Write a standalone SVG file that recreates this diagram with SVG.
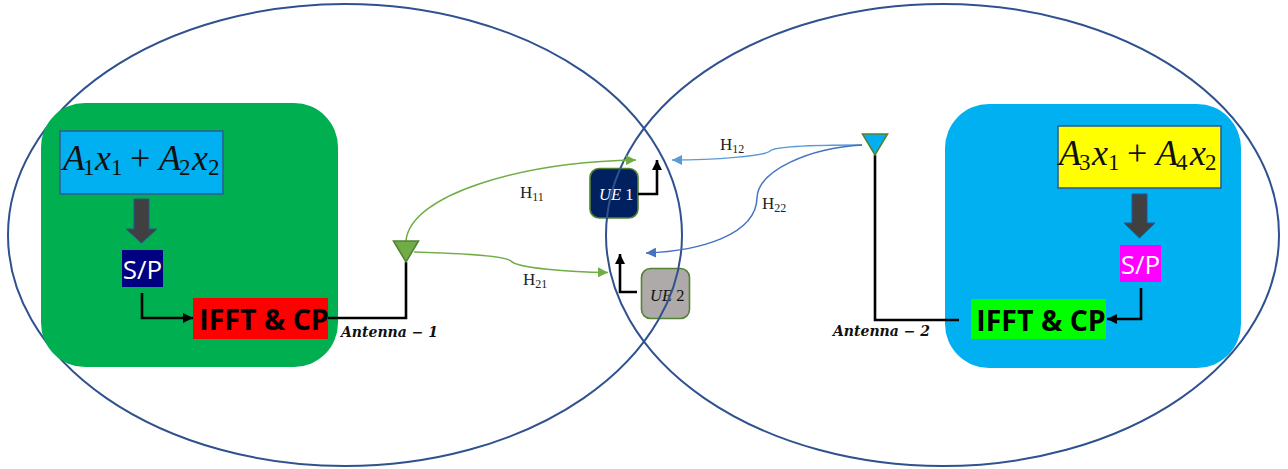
<svg xmlns="http://www.w3.org/2000/svg" width="1288" height="469" viewBox="0 0 1288 469">
<style>
.cell{fill:none;stroke:#2f528f;stroke-width:2}
.math{font-family:"Liberation Serif",serif;font-size:36px;font-style:italic;fill:#111}
.sub{font-size:23px;font-style:normal}
.up{font-style:normal}
.sp{font-family:"Open Sans","Noto Sans",sans-serif;font-size:26px;fill:#fff;text-anchor:middle}
.ifft{font-family:"Open Sans","Noto Sans",sans-serif;font-size:28.500px;font-weight:700;fill:#000;text-anchor:middle}
.ant{font-family:"DejaVu Serif",serif;font-size:14px;font-weight:700;font-style:italic;fill:#111}
.h{font-family:"Liberation Serif",serif;font-size:17px;fill:#222}
.hs{font-size:12px}
.ue{font-family:"Liberation Serif",serif;font-size:16.500px;font-style:italic}
.blk{fill:none;stroke:#000;stroke-width:2.600}
.thick{fill:#404040;stroke:#2f528f;stroke-width:1}
.box{stroke:#2f5f8f;stroke-width:1.600}
.uebox{stroke:#548235;stroke-width:1.600}
.tri{stroke:#548235;stroke-width:1.600}
</style>
<defs>
<marker id="mb" markerUnits="userSpaceOnUse" markerWidth="11" markerHeight="12" refX="10" refY="6" orient="auto"><path d="M0,1L10,6L0,11Z" fill="#000"/></marker>
<marker id="mg" markerUnits="userSpaceOnUse" markerWidth="11" markerHeight="10" refX="10" refY="5" orient="auto"><path d="M0,0L10,5L0,10Z" fill="#70ad47"/></marker>
<marker id="ml" markerUnits="userSpaceOnUse" markerWidth="11" markerHeight="10" refX="10" refY="5" orient="auto"><path d="M0,0L10,5L0,10Z" fill="#5b9bd5"/></marker>
<marker id="md" markerUnits="userSpaceOnUse" markerWidth="11" markerHeight="10" refX="10" refY="5" orient="auto"><path d="M0,0L10,5L0,10Z" fill="#4472c4"/></marker>
</defs>
<rect width="1288" height="469" fill="#fff"/>
<g id="ue1"><rect x="590" y="168.500" width="48" height="49.500" rx="9" fill="#002060" class="uebox"/><text x="599" y="200" class="ue" fill="#fff">UE <tspan font-style="normal">1</tspan></text></g>
<g id="ue2"><rect x="641.500" y="268.500" width="48" height="50" rx="9" fill="#aeaaaa" class="uebox"/><text x="650" y="301" class="ue" fill="#111">UE <tspan font-style="normal">2</tspan></text></g>
<g id="cell1"><ellipse cx="345" cy="235" rx="337" ry="231" class="cell"/></g>
<g id="cell2"><ellipse cx="942.500" cy="235" rx="336.500" ry="231" class="cell"/></g>
<g id="bs1">
<rect x="41" y="103" width="297" height="264" rx="44" fill="#00b050"/>
<rect x="60" y="131" width="163" height="63" fill="#00b0f0" class="box"/>
<g class="math"><text x="63" y="170">A</text><text x="83" y="175" class="sub">1</text><text x="95" y="170">x</text><text x="111" y="175" class="sub">1</text><text x="130" y="170" class="up">+</text><text x="159" y="170">A</text><text x="179" y="175" class="sub">2</text><text x="192" y="170">x</text><text x="208" y="175" class="sub">2</text></g>
<path d="M134,199H149V229H157L141.500,243L126,229H134Z" class="thick"/>
<rect x="122" y="250" width="41" height="37" fill="#000080"/>
<text x="142.500" y="279" class="sp">S/P</text>
<rect x="193" y="298" width="135" height="41" fill="#f00"/>
<text x="264" y="330" class="ifft">IFFT &amp; CP</text>
</g>
<g id="bs2">
<rect x="945" y="104" width="296" height="264" rx="44" fill="#00b0f0"/>
<rect x="1058" y="126" width="163" height="62" fill="#ff0" class="box"/>
<g class="math"><text x="1059" y="165">A</text><text x="1079" y="170" class="sub">3</text><text x="1092" y="165">x</text><text x="1108" y="170" class="sub">1</text><text x="1127" y="165" class="up">+</text><text x="1156" y="165">A</text><text x="1176" y="170" class="sub">4</text><text x="1190" y="165">x</text><text x="1205" y="170" class="sub">2</text></g>
<path d="M1132,194H1147V223H1155L1139.500,238L1124,223H1132Z" class="thick"/>
<rect x="1120" y="245" width="41" height="37" fill="#f0f"/>
<text x="1140.500" y="274" class="sp">S/P</text>
<rect x="971" y="299" width="135" height="40" fill="#0f0"/>
<text x="1041" y="331" class="ifft">IFFT &amp; CP</text>
</g>
<g id="connectors">
<path d="M142,293V318H193" class="blk" marker-end="url(#mb)"/>
<path d="M328,318H406V262" class="blk"/>
<path d="M1141,288V319H1107" class="blk" marker-end="url(#mb)"/>
<path d="M875,155V320H959" class="blk"/>
<path d="M638,194H657V160" class="blk" marker-end="url(#mb)"/>
<path d="M637,292H620V254" class="blk" marker-end="url(#mb)"/>
<path d="M406,241C410,195 520,162 636,160" fill="none" stroke="#70ad47" stroke-width="1.500" marker-end="url(#mg)"/>
<path d="M414,252C450,253 505,255 511,261C516,268 570,272 608,272.500" fill="none" stroke="#70ad47" stroke-width="1.500" marker-end="url(#mg)"/>
<path d="M862,145C820,145 775,146 770,151C765,156 715,160 672,160" fill="none" stroke="#5b9bd5" stroke-width="1.500" marker-end="url(#ml)"/>
<path d="M862,145C810,148 758,170 757,198C756,235 700,251 646,253" fill="none" stroke="#4472c4" stroke-width="1.500" marker-end="url(#md)"/>
</g>
<g id="ant1"><path d="M393.500,241H418.500L406,262Z" fill="#70ad47" class="tri"/><text x="341" y="337" class="ant">Antenna − 1</text></g>
<g id="ant2"><path d="M862.500,134H887.500L875,155Z" fill="#00b0f0" class="tri"/><text x="833" y="336" class="ant">Antenna − 2</text></g>
<g id="labels">
<text x="520" y="198" class="h">H<tspan class="hs" dy="3">11</tspan></text>
<text x="523" y="285" class="h">H<tspan class="hs" dy="3">21</tspan></text>
<text x="720" y="150" class="h">H<tspan class="hs" dy="3">12</tspan></text>
<text x="762" y="209" class="h">H<tspan class="hs" dy="3">22</tspan></text>
</g>
</svg>
